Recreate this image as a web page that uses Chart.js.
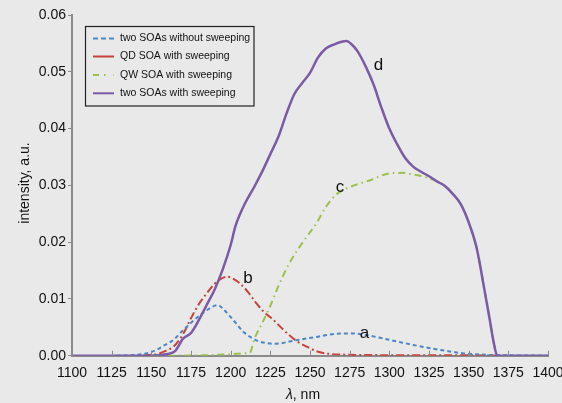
<!DOCTYPE html>
<html>
<head>
<meta charset="utf-8">
<script src="https://cdn.jsdelivr.net/npm/chart.js@4"></script>
<style>
html,body{margin:0;padding:0;background:#e9e9e9;}
canvas{display:block;}
</style>
</head>
<body>
<canvas id="c" width="562" height="403"></canvas>
<script>
// ---- data (wavelength nm / intensity a.u.) ----
const seriesNames = ["two SOAs without sweeping","QD SOA with sweeping","QW SOA with sweeping","two SOAs with sweeping"];
const xTicks = [1100,1125,1150,1175,1200,1225,1250,1275,1300,1325,1350,1375,1400];
const yTicks = [0,0.01,0.02,0.03,0.04,0.05,0.06];

const aLambda = [1128,1145,1153,1158,1164,1170,1175,1180,1185,1189,1192,1196,1200,1204,1208,1213,1218,1223,1227,1232,1237,1245,1254,1262,1270,1277,1284,1295,1305,1315,1326,1337,1347,1358,1368,1400];
const aValues = [0,0.0003,0.001,0.0018,0.0028,0.0045,0.0058,0.007,0.008,0.0087,0.0089,0.008,0.0068,0.0055,0.0042,0.0032,0.0025,0.0022,0.0021,0.0022,0.0025,0.0029,0.0033,0.0037,0.0039,0.0039,0.0037,0.0031,0.0025,0.0019,0.0013,0.0008,0.0004,0.0002,0.0001,0];

const bLambda = [1145,1155,1160,1164,1170,1175,1180,1185,1190,1195,1198,1202,1206,1211,1216,1221,1227,1232,1237,1242,1248,1254,1260,1270,1300,1340,1370];
const bValues = [0,0.0004,0.001,0.0016,0.0038,0.0066,0.0091,0.011,0.0127,0.0137,0.0139,0.0135,0.0127,0.0112,0.0093,0.0077,0.0063,0.0049,0.0036,0.0025,0.0016,0.0008,0.0004,0.0002,0.0001,0.0001,0];

const cLambda = [1150,1212,1215,1220,1225,1230,1237,1245,1254,1260,1267,1275,1288,1300,1309,1315,1322,1330,1335,1340,1345,1350,1355,1360,1363,1366,1368];
const cValues = [0,0.0005,0.003,0.0058,0.0088,0.0122,0.0163,0.0198,0.0233,0.0262,0.0285,0.0297,0.0309,0.0321,0.0322,0.0319,0.0315,0.0307,0.0299,0.0285,0.0267,0.0235,0.019,0.0115,0.0068,0.002,0];

const dLambda = [1100,1150,1160,1165,1170,1175,1180,1185,1190,1195,1200,1203,1206,1209,1215,1220,1225,1230,1235,1240,1245,1250,1255,1260,1265,1270,1273,1276,1280,1285,1290,1295,1300,1305,1310,1315,1320,1325,1330,1335,1340,1345,1350,1355,1360,1363,1366,1368,1400];
const dValues = [0,0,0.0003,0.0008,0.0030,0.0040,0.0063,0.0090,0.0117,0.0152,0.0195,0.0228,0.0250,0.0268,0.0298,0.0325,0.0355,0.0385,0.0425,0.0460,0.0480,0.0498,0.0525,0.0541,0.0548,0.0553,0.0554,0.0549,0.0536,0.0510,0.0478,0.0437,0.0400,0.0372,0.0348,0.0333,0.0324,0.0316,0.0307,0.0299,0.0285,0.0267,0.0235,0.0190,0.0115,0.0068,0.0020,0,0];

const curveLabels = ["a","b","c","d"];
const curveLabelPos = [[1284.3,0.0039],[1210.9,0.0137],[1268.9,0.0297],[1293.2,0.0511]];

function pts(xs, ys){ return xs.map((x,i)=>({x:x,y:ys[i]})); }

const colors = ["#4a86c8","#c8433b","#9cc04a","#7b5aa6"];
const dashes = [[4,3],[8,3,2,3],[7,4,1.5,4],[]];
const widths = [2,2,2,2.5];

const bgPlugin = {
  id:'bg',
  beforeDraw(chart){
    const ctx = chart.ctx;
    ctx.save();
    ctx.fillStyle = '#e9e9e9';
    ctx.fillRect(0,0,chart.width,chart.height);
    ctx.restore();
  }
};

const extrasPlugin = {
  id:'extras',
  afterDraw(chart){
    const ctx = chart.ctx;
    const xs = chart.scales.x, ys = chart.scales.y;
    const y0 = ys.getPixelForValue(0);
    ctx.save();
    // inward x ticks
    ctx.strokeStyle = '#8a8a8a';
    ctx.lineWidth = 1;
    xTicks.forEach(t=>{
      const px = Math.round(xs.getPixelForValue(t))+0.5;
      ctx.beginPath(); ctx.moveTo(px,y0); ctx.lineTo(px,y0-5); ctx.stroke();
    });
    // curve letters
    ctx.fillStyle = '#111';
    ctx.font = '17px "Liberation Sans", Arial, sans-serif';
    ctx.textAlign = 'center';
    ctx.textBaseline = 'middle';
    curveLabels.forEach((l,i)=>{
      const p = curveLabelPos[i];
      ctx.fillText(l, xs.getPixelForValue(p[0]), ys.getPixelForValue(p[1]));
    });
    // axis titles
    ctx.font = '14px "Liberation Sans", Arial, sans-serif';
    ctx.save();
    ctx.translate(25,183);
    ctx.rotate(-Math.PI/2);
    ctx.fillText('intensity, a.u.',0,0);
    ctx.restore();
    ctx.textAlign = 'left';
    ctx.font = 'italic 14px "Liberation Sans", Arial, sans-serif';
    const lamW = ctx.measureText('λ').width;
    ctx.font = '14px "Liberation Sans", Arial, sans-serif';
    const restW = ctx.measureText(', nm').width;
    let sx = 303 - (lamW+restW)/2;
    ctx.font = 'italic 14px "Liberation Sans", Arial, sans-serif';
    ctx.fillText('λ', sx, 395);
    ctx.font = '14px "Liberation Sans", Arial, sans-serif';
    ctx.fillText(', nm', sx+lamW, 395);
    // legend
    ctx.strokeStyle = '#222';
    ctx.lineWidth = 1.2;
    ctx.strokeRect(85.5,26.5,168.5,79.5);
    ctx.font = '10.5px "Liberation Sans", Arial, sans-serif';
    const rows = [38.5,56.5,75,93.3];
    seriesNames.forEach((n,i)=>{
      ctx.strokeStyle = colors[i];
      ctx.lineWidth = 2;
      ctx.setLineDash(i===2?[6,5,1.5,8]:(i===0?[5,3]:[]));
      ctx.beginPath(); ctx.moveTo(93,rows[i]); ctx.lineTo(114,rows[i]); ctx.stroke();
      ctx.setLineDash([]);
      ctx.fillStyle = '#111';
      ctx.textAlign='left';
      ctx.fillText(n,120,rows[i]);
    });
    ctx.restore();
  }
};

const datasets = [
  {label:seriesNames[0], data:pts(aLambda,aValues), order:2},
  {label:seriesNames[1], data:pts(bLambda,bValues), order:3},
  {label:seriesNames[2], data:pts(cLambda,cValues), order:1},
  {label:seriesNames[3], data:pts(dLambda,dValues), order:0}
].map((d,i)=>Object.assign(d,{
  borderColor:colors[i], borderDash:dashes[i], borderWidth:widths[i],
  pointRadius:0, fill:false, tension:0.3, cubicInterpolationMode:'monotone'
}));

const tickFont = {family:'"Liberation Sans", Arial, sans-serif', size:14};

new Chart(document.getElementById('c'), {
  type:'line',
  data:{datasets:datasets},
  options:{
    responsive:false,
    animation:false,
    devicePixelRatio:1,
    layout:{padding:{top:15,right:14,left:0,bottom:0}},
    plugins:{legend:{display:false},tooltip:{enabled:false}},
    scales:{
      x:{
        type:'linear', min:1100, max:1400,
        afterBuildTicks(s){ s.ticks = xTicks.map(v=>({value:v})); },
        ticks:{font:tickFont,color:'#111',padding:9,maxRotation:0,autoSkip:false,callback:v=>String(v)},
        grid:{drawOnChartArea:false,drawTicks:false,color:'#8a8a8a'},
        border:{color:'#8a8a8a',width:2},
        afterFit(s){ s.height = 47.3; s.paddingLeft = 0; s.paddingRight = 0; }
      },
      y:{
        type:'linear', min:0, max:0.06,
        afterBuildTicks(s){ s.ticks = yTicks.map(v=>({value:v})); },
        ticks:{font:tickFont,color:'#111',padding:2,callback:v=>Number(v).toFixed(2)},
        grid:{drawOnChartArea:false,drawTicks:true,tickLength:4,color:'#8a8a8a'},
        border:{color:'#8a8a8a',width:2},
        afterFit(s){ s.width = 72; s.paddingTop = 0; s.paddingBottom = 0; }
      }
    }
  },
  plugins:[bgPlugin,extrasPlugin]
});
</script>
</body>
</html>
